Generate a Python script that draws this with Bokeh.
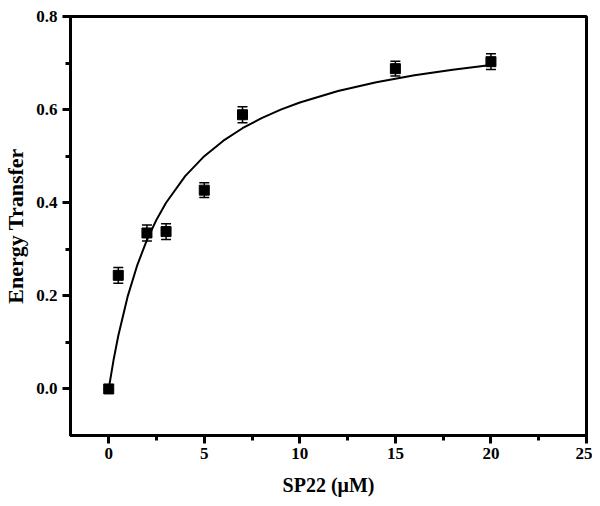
from bokeh.plotting import figure
from bokeh.models import ColumnDataSource, Whisker, TeeHead, Range1d, FixedTicker, NumeralTickFormatter
from bokeh.embed import file_html
from bokeh.resources import INLINE

conc = [0, 0.5, 2, 3, 5, 7, 15, 20]
transfer = [0.0, 0.244, 0.335, 0.338, 0.427, 0.589, 0.688, 0.703]
err = [0.0, 0.017, 0.017, 0.017, 0.016, 0.017, 0.016, 0.017]

fit_x = [0, 0.25, 0.5, 1, 1.5, 2, 2.5, 3, 4, 5, 6, 7, 8, 9, 10, 12, 14, 16, 18, 20]
fit_y = [0.0, 0.0615, 0.1143, 0.2, 0.2667, 0.32, 0.3636, 0.4, 0.4571, 0.5, 0.5333,
         0.56, 0.5818, 0.6, 0.6154, 0.64, 0.6588, 0.6737, 0.6857, 0.6957]

x_ticks = [0, 5, 10, 15, 20, 25]
y_ticks = [0.0, 0.2, 0.4, 0.6, 0.8]

FONT = "Liberation Serif"

p = figure(frame_width=516, frame_height=419, output_backend="svg", toolbar_location=None,
           x_range=Range1d(-2, 25), y_range=Range1d(-0.1, 0.8),
           min_border_left=62, min_border_right=6, min_border_top=16, min_border_bottom=56)
p.grid.visible = False
p.outline_line_color = "black"
p.outline_line_width = 3
p.outline_line_alpha = 1

lower = [t - e for t, e in zip(transfer, err)]
upper = [t + e for t, e in zip(transfer, err)]
src = ColumnDataSource(dict(x=conc, y=transfer, lo=lower, hi=upper))

p.line(fit_x, fit_y, line_color="black", line_width=2)
w = Whisker(source=src, base="x", lower="lo", upper="hi", line_color="black", line_width=1.5,
            lower_head=TeeHead(size=10, line_color="black", line_width=1.5),
            upper_head=TeeHead(size=10, line_color="black", line_width=1.5))
p.add_layout(w)
p.scatter("x", "y", source=src, marker="square", size=10, fill_color="black", line_color="black")

for ax in (p.xaxis[0], p.yaxis[0]):
    ax.axis_line_width = 3
    ax.major_tick_line_width = 3
    ax.minor_tick_line_width = 3
    ax.major_tick_out = 8
    ax.major_tick_in = 0
    ax.minor_tick_out = 5
    ax.minor_tick_in = 0
    ax.major_label_text_font = FONT
    ax.major_label_text_font_style = "bold"
    ax.major_label_text_font_size = "17px"
    ax.major_label_text_color = "black"
    ax.axis_label_text_font = FONT
    ax.axis_label_text_font_style = "bold"
    ax.axis_label_text_color = "black"

p.xaxis.axis_label_text_font_size = "20px"
p.yaxis.axis_label_text_font_size = "22px"
p.xaxis.ticker = FixedTicker(ticks=x_ticks, minor_ticks=[2.5, 7.5, 12.5, 17.5, 22.5])
p.yaxis.ticker = FixedTicker(ticks=y_ticks, minor_ticks=[0.1, 0.3, 0.5, 0.7])
p.yaxis.formatter = NumeralTickFormatter(format="0.0")
p.xaxis.axis_label = "SP22 (μM)"
p.yaxis.axis_label = "Energy Transfer"
p.xaxis.major_label_standoff = 4
p.yaxis.major_label_standoff = 5
p.xaxis.axis_label_standoff = 12
p.yaxis.axis_label_standoff = 5

open("out.html", "w").write(file_html(p, INLINE))
